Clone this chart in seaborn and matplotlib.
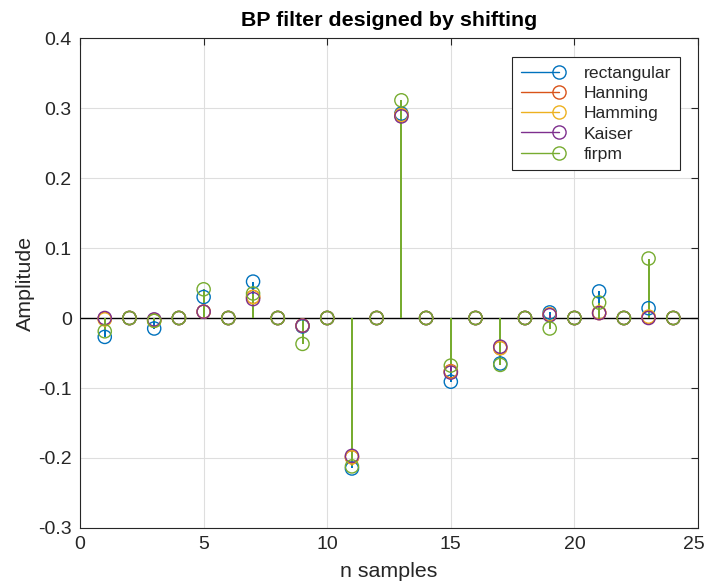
import numpy as np
import pandas as pd
import matplotlib
matplotlib.use("Agg")
import matplotlib.pyplot as plt
import matplotlib.transforms as mtransforms
import seaborn as sns
from matplotlib.lines import Line2D
from matplotlib.legend_handler import HandlerBase

# Sample index of the band-pass impulse responses
n = list(range(1, 25))

# Impulse responses (odd taps carry the signal, even taps are zero)
rectangular = [-0.027, 0, -0.015, 0, 0.030, 0, 0.052, 0, -0.012, 0, -0.215, 0,
               0.292, 0, -0.091, 0, -0.065, 0, 0.008, 0, 0.038, 0, 0.014, 0]
hanning = [-0.001, 0, -0.003, 0, 0.009, 0, 0.030, 0, -0.011, 0, -0.199, 0,
           0.290, 0, -0.076, 0, -0.043, 0, 0.005, 0, 0.007, 0, 0.001, 0]
hamming = [-0.002, 0, -0.004, 0, 0.009, 0, 0.030, 0, -0.011, 0, -0.199, 0,
           0.290, 0, -0.077, 0, -0.043, 0, 0.005, 0, 0.008, 0, 0.002, 0]
kaiser = [0.0, 0, -0.002, 0, 0.009, 0, 0.027, 0, -0.011, 0, -0.197, 0,
          0.288, 0, -0.078, 0, -0.041, 0, 0.004, 0, 0.007, 0, 0.0, 0]
firpm = [-0.019, 0, -0.004, 0, 0.041, 0, 0.035, 0, -0.037, 0, -0.212, 0,
         0.311, 0, -0.068, 0, -0.067, 0, -0.015, 0, 0.022, 0, 0.085, 0]

series_names = ["rectangular", "Hanning", "Hamming", "Kaiser", "firpm"]
series_values = [rectangular, hanning, hamming, kaiser, firpm]
colors = ["#0072BD", "#D95319", "#EDB120", "#7E2F8E", "#77AC30"]

x_ticks = [0, 5, 10, 15, 20, 25]
y_ticks = [-0.3, -0.2, -0.1, 0, 0.1, 0.2, 0.3, 0.4]
y_tick_labels = ["-0.3", "-0.2", "-0.1", "0", "0.1", "0.2", "0.3", "0.4"]

df = pd.concat(
    [pd.DataFrame({"n": n, "h": v, "window": name})
     for name, v in zip(series_names, series_values)],
    ignore_index=True,
)

sns.set_style("white")
plt.rcParams["font.family"] = ["Liberation Sans", "DejaVu Sans"]

fig = plt.figure(figsize=(7.07, 5.84), dpi=100)
ax = fig.add_axes([0.1132, 0.0959, 0.8741, 0.8390])

ms = 9.5
lw = 1.0
txt_col = "#262626"

for name, col in zip(series_names, colors):
    sub = df[df["window"] == name]
    ax.vlines(sub["n"], 0, sub["h"], color=col, lw=1.3, zorder=3,
              antialiased=False)
    sns.scatterplot(data=sub, x="n", y="h", ax=ax, marker="o", s=ms ** 2,
                    facecolors="none", edgecolor=col, linewidth=lw,
                    zorder=4, legend=False)

# Baseline
ax.axhline(0, color="black", lw=1.0, zorder=2)

ax.set_xlim(0, 25)
ax.set_ylim(-0.3, 0.4)
ax.set_xticks(x_ticks)
ax.set_yticks(y_ticks)
ax.set_xticklabels([str(t) for t in x_ticks])
ax.set_yticklabels(y_tick_labels)
ax.grid(True, color="#dedede", lw=0.8)
ax.set_axisbelow(True)

for side in ["top", "right", "bottom", "left"]:
    ax.spines[side].set_visible(True)
    ax.spines[side].set_color(txt_col)
    ax.spines[side].set_linewidth(0.8)
ax.tick_params(direction="in", length=5, width=0.8, colors=txt_col,
               labelsize=14, top=True, right=True, labeltop=False,
               labelright=False)
ax.tick_params(axis="x", pad=6)
ax.tick_params(axis="y", pad=6)

# keep the last x tick label inside the figure edge
last = ax.get_xticklabels()[-1]
last.set_transform(last.get_transform() +
                   mtransforms.ScaledTranslation(-4 / 100, 0, fig.dpi_scale_trans))

ax.set_xlabel("n samples", fontsize=15.4, color=txt_col, labelpad=6)
ax.set_ylabel("Amplitude", fontsize=15.4, color=txt_col, labelpad=2)
ax.set_title("BP filter designed by shifting", fontsize=15.4,
             fontweight="bold", color="black", pad=9)


class StemLegendHandler(HandlerBase):
    def create_artists(self, legend, orig_handle, xdescent, ydescent,
                       width, height, fontsize, trans):
        col = orig_handle.get_color()
        y = height / 2 - ydescent
        x0 = -xdescent
        x1 = -xdescent + width
        line = Line2D([x0, x1], [y, y], color=col, lw=lw)
        mark = Line2D([x1], [y], marker="o", markersize=ms,
                      markerfacecolor="none", markeredgecolor=col,
                      markeredgewidth=lw, linestyle="none")
        line.set_transform(trans)
        mark.set_transform(trans)
        return [line, mark]


handles = [Line2D([], [], color=c) for c in colors]
leg = ax.legend(handles, series_names, loc="upper right",
                bbox_to_anchor=(0.971, 0.961),
                handler_map={Line2D: StemLegendHandler()},
                fontsize=12.6, frameon=True, fancybox=False,
                edgecolor=txt_col, framealpha=1, handlelength=2.17,
                handletextpad=1.43, labelspacing=0.28, borderpad=0.5,
                borderaxespad=0)
leg.get_frame().set_linewidth(0.8)
for t in leg.get_texts():
    t.set_color(txt_col)

fig.savefig("out.png", dpi=100, facecolor="white")
